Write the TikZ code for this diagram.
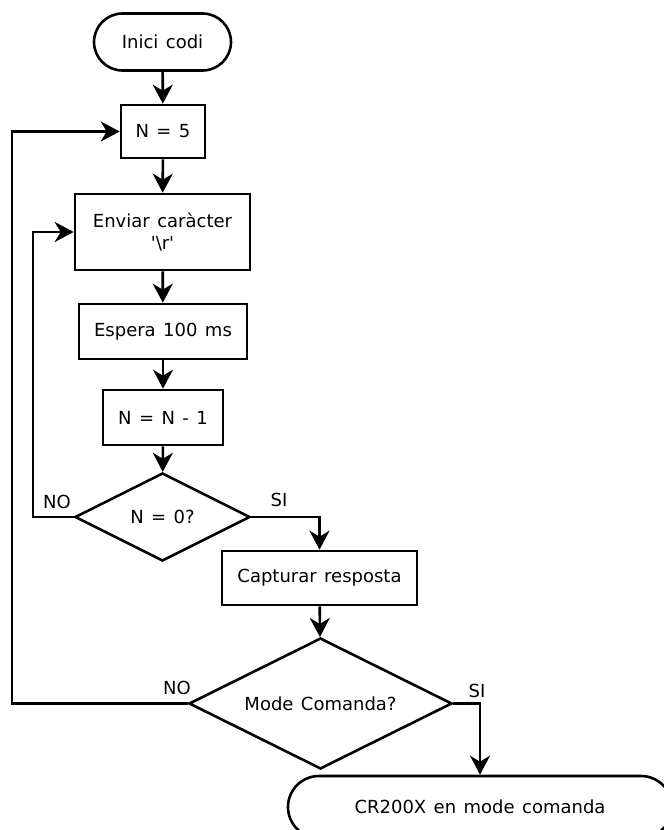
\documentclass[tikz,border=0pt]{standalone}
\usepackage{fontspec}
\setmainfont{DejaVu Sans}[WordSpace=1.3]
\usetikzlibrary{shapes.geometric,arrows.meta}

\begin{document}
\begin{tikzpicture}[x=1bp,y=-1bp,
  font=\fontsize{18bp}{22bp}\selectfont,
  line width=2.6bp,
  proc/.style={draw, rectangle, inner sep=0pt, align=center},
  term/.style={draw, rectangle, rounded corners=#1, inner sep=0pt},
  decide/.style={draw, diamond, aspect=2, inner sep=0pt},
  flow/.style={-{Stealth[length=19bp,width=20bp,inset=6bp]}},
  lbl/.style={inner sep=0pt}
]
\useasboundingbox (0,0) rectangle (664,830);
\clip (0,0) rectangle (664,830);

% blocks of the flow
\node[term=28.5bp, minimum width=137bp, minimum height=57bp] (start) at (162.5,42) {Inici codi};
\node[proc, minimum width=84bp, minimum height=53bp] (n5) at (163,131.5) {N = 5};
\node[proc, minimum width=175bp, minimum height=76bp] (send) at (162.5,232) {Enviar caràcter\\\textquotesingle\textbackslash r\textquotesingle};
\node[proc, minimum width=168bp, minimum height=55bp] (wait) at (163,331.5) {Espera 100 ms};
\node[proc, minimum width=120bp, minimum height=55bp] (dec) at (163,417.5) {N = N - 1};
\node[decide, minimum width=175bp, minimum height=88bp] (zero) at (162.5,517) {N = 0?};
\node[proc, minimum width=195bp, minimum height=54bp] (capt) at (319.5,578) {Capturar resposta};
\node[decide, minimum width=263bp, minimum height=131bp] (mode) at (320.5,703.5) {Mode Comanda?};
\node[term=31bp, minimum width=384bp, minimum height=62bp] (done) at (480,807) {CR200X en mode comanda};

% side coordinates of the loops
\coordinate (loopA) at (33,517);
\coordinate (loopB) at (12,703.5);

% connectors
\draw[flow] (start) -- (n5);
\draw[flow] (n5) -- (send);
\draw[flow] (send) -- (wait);
\draw[flow] (wait) -- (dec);
\draw[flow] (dec) -- (zero);
\draw[flow] (zero.east) -| (capt.north);
\draw[flow] (zero.west) -- (loopA) |- (send.west);
\draw[flow] (capt) -- (mode);
\draw[flow] (mode.west) -- (loopB) |- (n5.west);
\draw[flow] (mode.east) -| (done.north);

% branch labels
\node[lbl] (noA) at (57,502) {NO};
\node[lbl] (siA) at (279,500) {SI};
\node[lbl] (noB) at (177,688) {NO};
\node[lbl] (siB) at (477,691) {SI};
\end{tikzpicture}
\end{document}
